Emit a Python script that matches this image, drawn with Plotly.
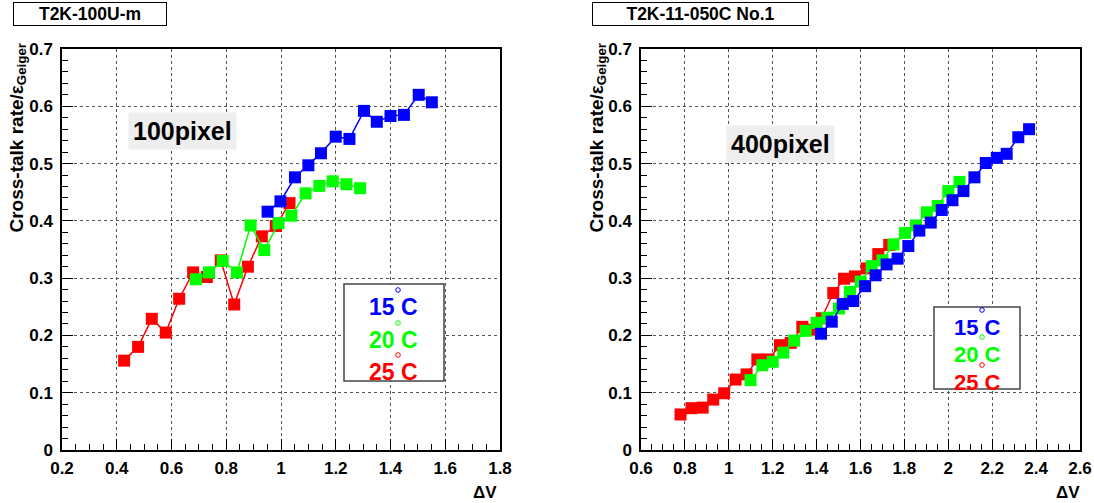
import plotly.graph_objects as go

# Left panel: T2K-100U-m (100 pixel MPPC)
v100_15 = [0.951, 0.998, 1.051, 1.100, 1.146, 1.200, 1.250, 1.303, 1.350, 1.400, 1.449, 1.503, 1.551]
ct100_15 = [0.416, 0.434, 0.476, 0.497, 0.518, 0.547, 0.543, 0.592, 0.573, 0.583, 0.585, 0.620, 0.607]
v100_20 = [0.689, 0.737, 0.787, 0.839, 0.889, 0.939, 0.991, 1.038, 1.090, 1.140, 1.189, 1.239, 1.289]
ct100_20 = [0.298, 0.310, 0.330, 0.310, 0.392, 0.349, 0.396, 0.409, 0.448, 0.461, 0.469, 0.464, 0.457]
v100_25 = [0.427, 0.478, 0.528, 0.579, 0.628, 0.679, 0.729, 0.780, 0.829, 0.879, 0.930, 0.981, 1.031]
ct100_25 = [0.156, 0.180, 0.229, 0.205, 0.264, 0.310, 0.302, 0.331, 0.254, 0.320, 0.373, 0.391, 0.431]

# Right panel: T2K-11-050C No.1 (400 pixel MPPC)
v400_15 = [1.420, 1.469, 1.519, 1.567, 1.621, 1.669, 1.719, 1.769, 1.818, 1.868,
           1.920, 1.970, 2.019, 2.069, 2.119, 2.171, 2.221, 2.266, 2.319, 2.368]
ct400_15 = [0.203, 0.224, 0.255, 0.260, 0.286, 0.305, 0.324, 0.334, 0.356, 0.383,
            0.397, 0.419, 0.436, 0.452, 0.476, 0.501, 0.510, 0.517, 0.546, 0.560]
v400_20 = [1.099, 1.153, 1.200, 1.248, 1.298, 1.350, 1.400, 1.449, 1.502, 1.552,
           1.601, 1.651, 1.700, 1.750, 1.803, 1.853, 1.902, 1.952, 2.000, 2.051]
ct400_20 = [0.122, 0.148, 0.154, 0.170, 0.191, 0.208, 0.222, 0.231, 0.247, 0.276,
            0.294, 0.321, 0.331, 0.359, 0.379, 0.392, 0.415, 0.426, 0.452, 0.468]
v400_25 = [0.780, 0.830, 0.881, 0.929, 0.979, 1.031, 1.081, 1.130, 1.181, 1.233,
           1.282, 1.335, 1.385, 1.423, 1.476, 1.525, 1.575, 1.628, 1.681, 1.731]
ct400_25 = [0.062, 0.073, 0.074, 0.088, 0.099, 0.123, 0.132, 0.158, 0.158, 0.183,
            0.187, 0.215, 0.210, 0.230, 0.274, 0.299, 0.303, 0.317, 0.342, 0.358]

# tick positions and labels
x1_ticks = [0.2, 0.4, 0.6, 0.8, 1.0, 1.2, 1.4, 1.6, 1.8]
x1_labels = ["0.2", "0.4", "0.6", "0.8", "1", "1.2", "1.4", "1.6", "1.8"]
x2_ticks = [0.6, 0.8, 1.0, 1.2, 1.4, 1.6, 1.8, 2.0, 2.2, 2.4, 2.6]
x2_labels = ["0.6", "0.8", "1", "1.2", "1.4", "1.6", "1.8", "2", "2.2", "2.4", "2.6"]
y_ticks = [0, 0.1, 0.2, 0.3, 0.4, 0.5, 0.6, 0.7]
y_labels = ["0", "0.1", "0.2", "0.3", "0.4", "0.5", "0.6", "0.7"]

temps = ["15", "20", "25"]
colors = ["#0000ff", "#00ff00", "#ff0000"]
panel_titles = ["T2K-100U-m", "T2K-11-050C No.1"]
pixel_labels = ["100pixel", "400pixel"]
y_title = "Cross-talk rate/ε<sub>Geiger</sub>"
x_title = "ΔV"

W, H = 1094, 503
FONT = "Liberation Sans"


def fx(p):
    return p / W


def fy(p):
    return 1 - p / H


def bold(s):
    return "<b>" + s + "</b>"


fig = go.Figure()

left = [(v100_15, ct100_15), (v100_20, ct100_20), (v100_25, ct100_25)]
right = [(v400_15, ct400_15), (v400_20, ct400_20), (v400_25, ct400_25)]

# red first so blue ends up on top
for (xs, ys), c, t in reversed(list(zip(left, colors, temps))):
    fig.add_trace(go.Scatter(x=xs, y=ys, mode="lines+markers", xaxis="x", yaxis="y",
                             line=dict(color=c, width=1.5),
                             marker=dict(symbol="square", size=12, color=c),
                             name=t + " C", showlegend=False))
for (xs, ys), c, t in reversed(list(zip(right, colors, temps))):
    fig.add_trace(go.Scatter(x=xs, y=ys, mode="lines+markers", xaxis="x2", yaxis="y2",
                             line=dict(color=c, width=1.5),
                             marker=dict(symbol="square", size=12, color=c),
                             name=t + " C", showlegend=False))

tickfont = dict(family=FONT, size=17, color="black")
ydom = [fy(450), fy(49)]


def xaxis(rng, dom, anchor, tv, tt):
    return dict(range=rng, domain=dom, anchor=anchor,
                tickmode="array", tickvals=tv, ticktext=[bold(s) for s in tt],
                automargin=False,
                showline=True, linecolor="black", linewidth=1.5, mirror=True,
                ticks="inside", ticklen=11, tickcolor="black", tickwidth=1,
                minor=dict(ticks="inside", ticklen=6, dtick=0.05, tick0=0, tickcolor="black",
                           showgrid=False),
                showgrid=True, gridcolor="#555555", griddash="dot", gridwidth=1,
                zeroline=False, tickfont=tickfont, ticklabelstandoff=2)


def yaxis(dom, anchor):
    return dict(range=[0, 0.7], domain=dom, anchor=anchor,
                tickmode="array", tickvals=y_ticks, ticktext=[bold(s) for s in y_labels],
                automargin=False,
                showline=True, linecolor="black", linewidth=1.5, mirror=True,
                ticks="inside", ticklen=11, tickcolor="black", tickwidth=1,
                minor=dict(ticks="inside", ticklen=6, dtick=0.02, tick0=0, tickcolor="black",
                           showgrid=False),
                showgrid=True, gridcolor="#555555", griddash="dot", gridwidth=1,
                zeroline=False, tickfont=tickfont, ticklabelstandoff=4)


annotations = []
shapes = []

# panel titles in boxes
for title, cx, w in [(panel_titles[0], 90, 150), (panel_titles[1], 700, 213)]:
    annotations.append(dict(text=bold(title), x=fx(cx), y=fy(14), xref="paper", yref="paper",
                            showarrow=False, xanchor="center", yanchor="middle",
                            font=dict(family=FONT, size=17.5, color="black"),
                            bordercolor="black", borderwidth=1, bgcolor="white",
                            width=w, height=20))

# axis titles
for x0 in [18, 598]:
    annotations.append(dict(text=bold(y_title), x=fx(x0), y=fy(42), xref="paper", yref="paper",
                            showarrow=False, textangle=-90, xanchor="center", yanchor="top",
                            font=dict(family=FONT, size=19, color="black")))
for x0 in [485, 1068]:
    annotations.append(dict(text=bold(x_title), x=fx(x0), y=fy(492), xref="paper", yref="paper",
                            showarrow=False, xanchor="center", yanchor="middle",
                            font=dict(family=FONT, size=17, color="black")))

# pixel count labels
for lab, cx, cy in [(pixel_labels[0], 182, 131), (pixel_labels[1], 780, 144)]:
    annotations.append(dict(text=bold(lab), x=fx(cx), y=fy(cy), xref="paper", yref="paper",
                            showarrow=False, xanchor="center", yanchor="middle",
                            font=dict(family=FONT, size=25, color="black"),
                            bgcolor="#eeeeee", borderpad=4))

# temperature legend boxes
legends = [
    dict(box=(344, 284, 444, 381), tx=393, rows=[307, 340, 372], size=23, circ=(398, -17)),
    dict(box=(934, 307, 1020, 389), tx=977, rows=[327, 354, 382], size=22, circ=(982, -17)),
]
for lg in legends:
    x0, y0, x1, y1 = lg["box"]
    shapes.append(dict(type="rect", xref="paper", yref="paper",
                       x0=fx(x0), y0=fy(y1), x1=fx(x1), y1=fy(y0),
                       line=dict(color="#444444", width=1.5), fillcolor="white", layer="above"))
    for t, c, ry in zip(temps, colors, lg["rows"]):
        annotations.append(dict(text=bold(t + " C"), x=fx(lg["tx"]), y=fy(ry), xref="paper", yref="paper",
                                showarrow=False, xanchor="center", yanchor="middle",
                                font=dict(family=FONT, size=lg["size"], color=c)))
        cxp, dy = lg["circ"]
        cyp = ry + dy
        shapes.append(dict(type="circle", xref="paper", yref="paper",
                           x0=fx(cxp - 2.3), x1=fx(cxp + 2.3), y0=fy(cyp + 2.3), y1=fy(cyp - 2.3),
                           line=dict(color=c, width=1), layer="above"))

fig.update_layout(
    width=W, height=H,
    margin=dict(l=0, r=0, t=0, b=0, autoexpand=False),
    paper_bgcolor="white", plot_bgcolor="white",
    font=dict(family=FONT),
    xaxis=xaxis([0.2, 1.8], [fx(62), fx(500)], "y", x1_ticks, x1_labels),
    yaxis=yaxis(ydom, "x"),
    xaxis2=xaxis([0.6, 2.6], [fx(641), fx(1080)], "y2", x2_ticks, x2_labels),
    yaxis2=yaxis(ydom, "x2"),
    annotations=annotations,
    shapes=shapes,
    showlegend=False,
)

fig.write_html("out.html")
